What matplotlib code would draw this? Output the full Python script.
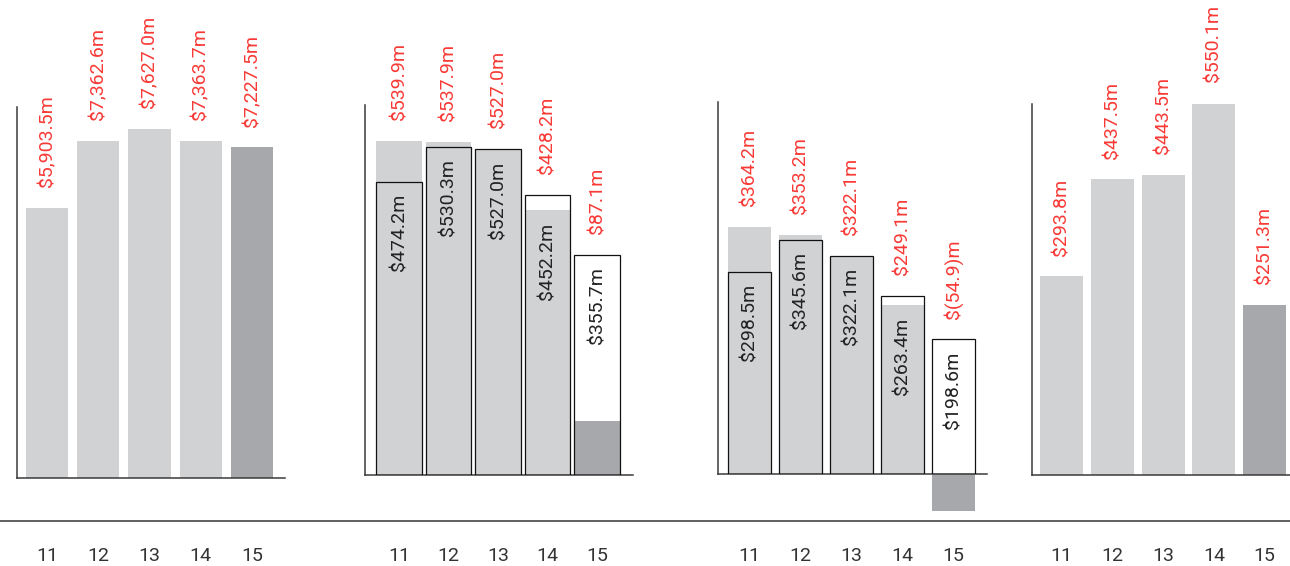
import matplotlib.pyplot as plt
from matplotlib.lines import Line2D

plt.rcParams['font.family'] = ['Roboto', 'DejaVu Sans']

anos = ['11', '12', '13', '14', '15']

receita = [5903.5, 7362.6, 7627.0, 7363.7, 7227.5]

p2_cinza = [539.9, 537.9, 527.0, 428.2, 87.1]
p2_contorno = [474.2, 530.3, 527.0, 452.2, 355.7]

p3_cinza = [364.2, 353.2, 322.1, 249.1, -54.9]
p3_contorno = [298.5, 345.6, 322.1, 263.4, 198.6]

p4_valores = [293.8, 437.5, 443.5, 550.1, 251.3]

CLARO = '#d1d2d4'
ESCURO = '#a7a8ab'
VERMELHO = '#f83a36'
EIXO = '#3a3a3a'
W, H = 1290, 566

fig = plt.figure(figsize=(W / 100, H / 100), dpi=100)


def fmt(v):
    if v < 0:
        return f'$({abs(v):,.1f})m'
    return f'${v:,.1f}m'


def painel(l, r, t, b, xlim, ymax):
    ax = fig.add_axes([l / W, 1 - b / H, (r - l) / W, (b - t) / H])
    ax.set_xlim(*xlim)
    ax.set_ylim(0, ymax)
    for s in ['top', 'right']:
        ax.spines[s].set_visible(False)
    for s in ['left', 'bottom']:
        ax.spines[s].set_color(EIXO)
        ax.spines[s].set_linewidth(1.1)
    ax.set_yticks([])
    ax.set_xticks(range(5), anos)
    pad = (551 - b) * 0.72 - 3
    ax.tick_params(axis='x', length=0, pad=pad, labelsize=14, labelcolor='#333333')
    ax.patch.set_alpha(0)
    return ax


def rotulo_vermelho(ax, x, y, txt):
    ax.annotate(txt, (x, y), xytext=(0, 15), textcoords='offset points',
                rotation=90, ha='center', va='bottom', color=VERMELHO,
                fontsize=14, annotation_clip=False)


def rotulo_preto(ax, x, y, txt):
    ax.annotate(txt, (x, y), xytext=(0, -9), textcoords='offset points',
                rotation=90, ha='center', va='top', color='#222222',
                fontsize=14, annotation_clip=False)


cores = [CLARO] * 4 + [ESCURO]
x = list(range(5))

# painel 1
ax1 = painel(17, 285, 107, 478, (-0.585, 4.643), 8111)
ax1.bar(x, receita, width=0.82, color=cores, zorder=2)
for i, v in enumerate(receita):
    rotulo_vermelho(ax1, i, v, fmt(v))

# paineis 2 e 3 (barra cinza + barra com contorno)
def painel_duplo(ax, cinza, contorno, larg):
    ax.bar(x, contorno, width=larg, color='white', zorder=1)
    ax.bar(x, cinza, width=larg, color=cores, zorder=2, clip_on=False)
    ax.bar(x, contorno, width=larg, fill=False, edgecolor='#111111',
           linewidth=0.9, zorder=3)
    for i in x:
        topo = max(cinza[i], contorno[i])
        rotulo_vermelho(ax, i, topo, fmt(cinza[i]))
        ref = min(cinza[i], contorno[i]) if cinza[i] > 0.5 * contorno[i] else contorno[i]
        rotulo_preto(ax, i, ref, fmt(contorno[i]))


ax2 = painel(365, 633, 105, 475, (-0.687, 4.727), 598)
painel_duplo(ax2, p2_cinza, p2_contorno, 0.91)

ax3 = painel(718, 987, 102, 474, (-0.612, 4.655), 549)
painel_duplo(ax3, p3_cinza, p3_contorno, 0.843)

# painel 4
ax4 = painel(1032, 1290, 104, 475, (-0.581, 4.5), 549)
ax4.bar(x, p4_valores, width=0.847, color=cores, zorder=2)
for i, v in enumerate(p4_valores):
    rotulo_vermelho(ax4, i, v, fmt(v))

fig.add_artist(Line2D([0, 1], [1 - 521 / H] * 2, transform=fig.transFigure,
                      color='#5f5f5f', linewidth=1.4))

fig.savefig('out.png', dpi=100)
